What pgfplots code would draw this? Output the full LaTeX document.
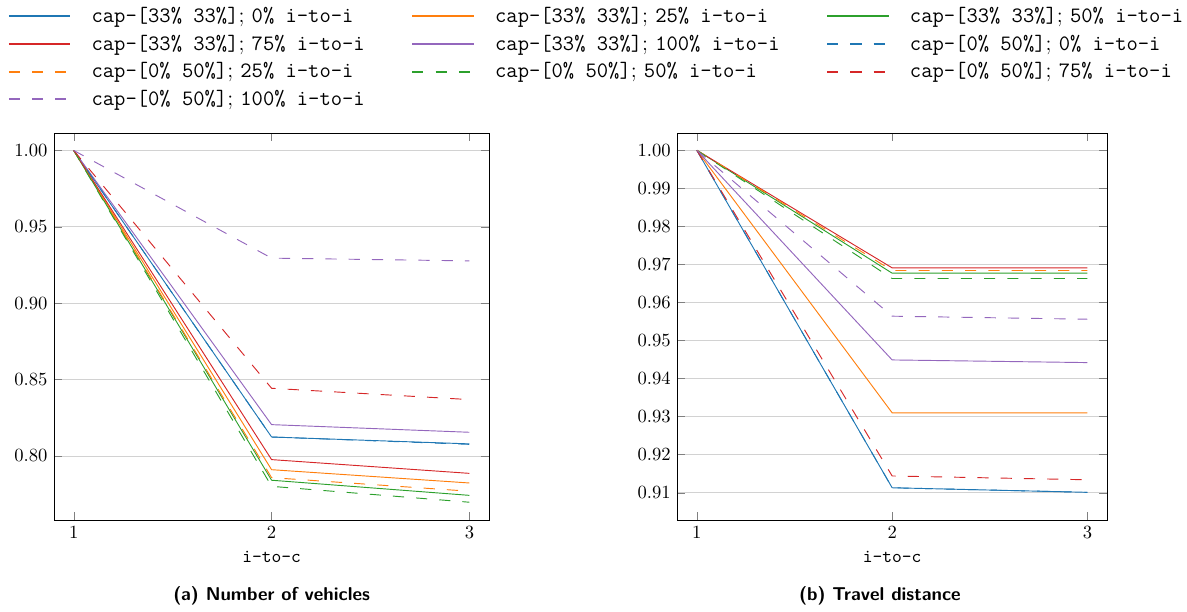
\documentclass[border=0pt]{standalone}
\usepackage{pgfplots}
\pgfplotsset{compat=1.18}
\usepackage{pgfplotstable}

\definecolor{tabblue}{HTML}{1F77B4}
\definecolor{taborange}{HTML}{FF7F0E}
\definecolor{tabgreen}{HTML}{2CA02C}
\definecolor{tabred}{HTML}{D62728}
\definecolor{tabpurple}{HTML}{9467BD}

% number of vehicles, relative to i-to-c = 1
\pgfplotstableread{
x  Sa     Sb     Sc     Sd     Se     Da     Db     Dc     Dd     De
1  1.0    1.0    1.0    1.0    1.0    1.0    1.0    1.0    1.0    1.0
2  0.8124 0.7910 0.7841 0.7976 0.8205 0.8124 0.7858 0.7801 0.8443 0.9295
3  0.8079 0.7823 0.7742 0.7886 0.8155 0.8076 0.7769 0.7697 0.8369 0.9277
}\vehicles

% travel distance
\pgfplotstableread{
x  Sa     Sb     Sc     Sd     Se     Da     Db     Dc     Dd     De
1  1.0    1.0    1.0    1.0    1.0    1.0    1.0    1.0    1.0    1.0
2  0.9113 0.9310 0.9677 0.9691 0.9449 0.9113 0.9684 0.9663 0.9144 0.9564
3  0.9101 0.9310 0.9677 0.9691 0.9442 0.9101 0.9684 0.9663 0.9134 0.9556
}\distance

\pgfplotsset{
  base/.style={
    scale only axis, height=208pt,
    xmin=0.9, xmax=3.1, xtick={1,2,3},
    ymajorgrids, grid style={gray!35},
    major tick style={gray},
    xlabel={\texttt{i-to-c}},
    yticklabel style={/pgf/number format/.cd,fixed,fixed zerofill,precision=2},
    every axis plot/.append style={line width=0.5pt},
    legend image code/.code={%
      \draw[#1,line width=1.1pt] (0pt,0pt) -- (33pt,0pt);},
  },
  dsh/.style={dash pattern=on 6pt off 6.5pt},
}
\newcommand{\ent}[2]{\hspace*{9pt}\texttt{cap-[#1]}; \texttt{#2\% i-to-i}\hspace*{23pt}}

\begin{document}
\begin{tikzpicture}

\begin{axis}[base, width=234pt, at={(0pt,0pt)}, anchor=south west,
  ymin=0.758, ymax=1.0113, ytick={0.80,0.85,0.90,0.95,1.00},
  legend columns=3,
  legend cell align=left,
  legend style={at={(-0.107,1.336)}, anchor=north west, draw=none, fill=none,
    inner sep=0pt, row sep=1.2pt, font=\fontsize{11.8}{14}\selectfont},
]
\addplot[tabblue] table[y=Sa] {\vehicles};
\addplot[taborange] table[y=Sb] {\vehicles};
\addplot[tabgreen] table[y=Sc] {\vehicles};
\addplot[tabred] table[y=Sd] {\vehicles};
\addplot[tabpurple] table[y=Se] {\vehicles};
\addplot[tabblue,dsh] table[y=Da] {\vehicles};
\addplot[taborange,dsh] table[y=Db] {\vehicles};
\addplot[tabgreen,dsh] table[y=Dc] {\vehicles};
\addplot[tabred,dsh] table[y=Dd] {\vehicles};
\addplot[tabpurple,dsh] table[y=De] {\vehicles};
\legend{
  \ent{33\% 33\%}{0},
  \ent{33\% 33\%}{25},
  \ent{33\% 33\%}{50},
  \ent{33\% 33\%}{75},
  \ent{33\% 33\%}{100},
  \ent{0\% 50\%}{0},
  \ent{0\% 50\%}{25},
  \ent{0\% 50\%}{50},
  \ent{0\% 50\%}{75},
  \ent{0\% 50\%}{100}}
\end{axis}
\node[font=\sffamily\bfseries] at (117pt,-40.9pt) {(a) Number of vehicles};

\begin{axis}[base, width=231pt, at={(335.1pt,0pt)}, anchor=south west,
  ymin=0.9028, ymax=1.0045,
  ytick={0.91,0.92,0.93,0.94,0.95,0.96,0.97,0.98,0.99,1.00},
]
\addplot[tabblue] table[y=Sa] {\distance};
\addplot[taborange] table[y=Sb] {\distance};
\addplot[tabgreen] table[y=Sc] {\distance};
\addplot[tabred] table[y=Sd] {\distance};
\addplot[tabpurple] table[y=Se] {\distance};
\addplot[tabblue,dsh] table[y=Da] {\distance};
\addplot[taborange,dsh] table[y=Db] {\distance};
\addplot[tabgreen,dsh] table[y=Dc] {\distance};
\addplot[tabred,dsh] table[y=Dd] {\distance};
\addplot[tabpurple,dsh] table[y=De] {\distance};
\end{axis}
\node[font=\sffamily\bfseries] at (444pt,-40.9pt) {(b) Travel distance};

\pgfresetboundingbox
\path[use as bounding box] (-29pt,-48.9pt) rectangle (609.1pt,279.6pt);
\end{tikzpicture}
\end{document}
